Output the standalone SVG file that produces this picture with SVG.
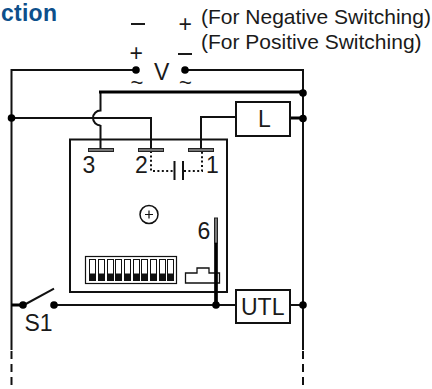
<svg xmlns="http://www.w3.org/2000/svg" width="432" height="389" viewBox="0 0 432 389">
<style>
text{font-family:"Liberation Sans",Arial,sans-serif;fill:#1a1a1a}
.w{fill:none;stroke:#111;stroke-width:2}
.t{fill:none;stroke:#000;stroke-width:3.200}
.d{fill:none;stroke:#111;stroke-width:2;stroke-dasharray:2 2.400}
.box{fill:#fff;stroke:#111;stroke-width:2}
.bar{fill:#777;stroke:#222;stroke-width:1}
.l{font-size:23px}
.s{font-size:21px}
</style>
<defs>
<g id="dip"><rect x="0" y="0" width="6" height="21" fill="#fff" stroke="#111" stroke-width="1"/><rect x="0" y="14" width="6" height="7" fill="#111"/></g>
</defs>
<text x="1" y="21" font-size="23" font-weight="700" textLength="56" style="fill:#0d4f8b">ction</text>
<g id="labels">
<text x="201" y="24" class="s">(For Negative Switching)</text>
<text x="201" y="49" class="s">(For Positive Switching)</text>
<rect x="131" y="23" width="14" height="2" fill="#1a1a1a"/>
<text x="178.500" y="32" font-size="23">+</text>
<text x="129.500" y="61" font-size="23">+</text>
<rect x="178" y="53" width="14" height="2" fill="#1a1a1a"/>
<text x="154" y="80" font-size="23">V</text>
<text x="130.500" y="90" font-size="22">~</text>
<text x="179" y="90" font-size="22">~</text>
</g>
<g id="connectors">
<path class="w" d="M136 70H11.500V350M185 70H303V350M11.500 118H151V150M100.500 125V150M201 150V117H236M54 305H236M290 305H303"/>
<path class="w" d="M100.500 92V110.500A7.500 7.500 0 0 0 100.500 125.500"/>
<path class="t" d="M99 92H303M290 118H303M11.500 305H23M216 242V305"/>
<path class="w" d="M23 305.500L54 288.700"/>
<path d="M11.500 351V389M303 351V389" fill="none" stroke="#111" stroke-width="2" stroke-dasharray="8 5"/>
<path class="d" d="M151 151V171H173M184 171H202V151"/>
<path class="w" d="M174.500 161V180M183 161V180"/>
<g fill="#000">
<circle cx="136" cy="70" r="3.800"/><circle cx="185" cy="70" r="3.800"/>
<circle cx="11.500" cy="118" r="3.800"/><circle cx="303" cy="93" r="3.800"/><circle cx="303" cy="118.500" r="3.800"/>
<circle cx="23" cy="305" r="3.800"/><circle cx="54" cy="305" r="3.800"/>
<circle cx="216" cy="305" r="3.800"/><circle cx="303" cy="305" r="3.800"/>
</g>
</g>
<g id="panel">
<rect x="70" y="139.500" width="157" height="152.500" fill="none" stroke="#111" stroke-width="2"/>
<rect class="bar" x="88.500" y="148.500" width="25" height="3"/>
<rect class="bar" x="138.500" y="148.500" width="25" height="3"/>
<rect class="bar" x="188.500" y="148.500" width="25" height="3"/>
<text x="82.500" y="173" class="l">3</text>
<text x="135" y="173" class="l">2</text>
<text x="206" y="173" class="l">1</text>
<text x="197.500" y="239" class="l">6</text>
<rect class="bar" x="214.500" y="218" width="3" height="25"/>
<circle cx="149" cy="214.500" r="9" fill="none" stroke="#111" stroke-width="1.500"/>
<path d="M145 214.500H153M149 210.500V218.500" stroke="#111" stroke-width="1.200"/>
<rect x="85.500" y="256.500" width="91" height="27" fill="none" stroke="#111" stroke-width="1.200"/>
<use href="#dip" x="89.500" y="259.500"/><use href="#dip" x="98.500" y="259.500"/><use href="#dip" x="107.500" y="259.500"/><use href="#dip" x="115.500" y="259.500"/><use href="#dip" x="124.500" y="259.500"/><use href="#dip" x="133.500" y="259.500"/><use href="#dip" x="141.500" y="259.500"/><use href="#dip" x="150.500" y="259.500"/><use href="#dip" x="159.500" y="259.500"/><use href="#dip" x="167.500" y="259.500"/>
<path d="M185.500 283V273H197V268H209V273H219.500V283Z" fill="none" stroke="#111" stroke-width="1.300"/>
<path class="t" d="M216 243V305"/>
</g>
<g id="L"><rect class="box" x="236" y="102" width="54" height="34"/><text x="258" y="127" font-size="23">L</text></g>
<g id="UTL"><rect class="box" x="236" y="290" width="54" height="33"/><text x="241" y="315" font-size="23">UTL</text></g>
<g id="S1"><text x="24.500" y="331" class="l">S1</text></g>
</svg>
